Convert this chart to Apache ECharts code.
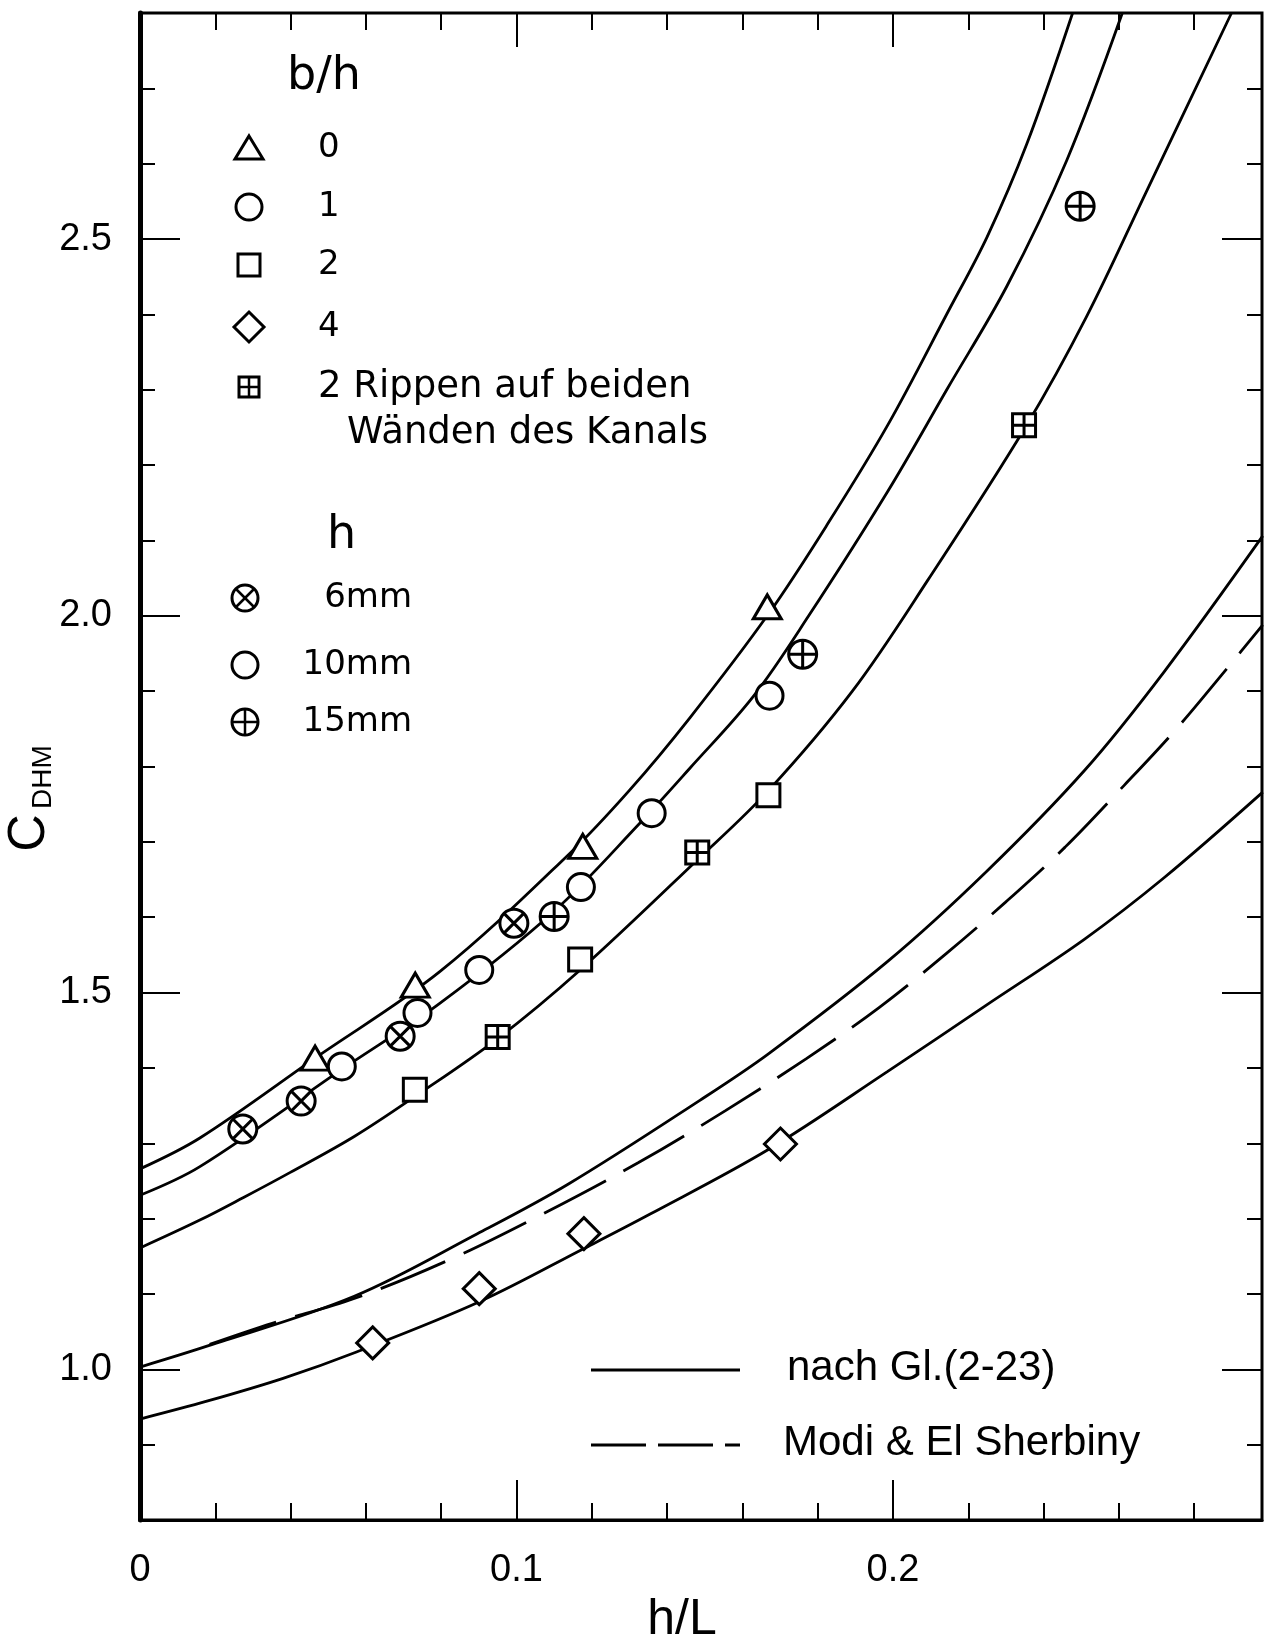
<!DOCTYPE html>
<html>
<head>
<meta charset="utf-8">
<title>C_DHM über h/L</title>
<script src="https://cdn.jsdelivr.net/npm/echarts@6.0.0/dist/echarts.min.js"></script>
<style>
  html, body { margin: 0; padding: 0; background: #fff; }
  #chart { width: 1271px; height: 1634px; }
</style>
</head>
<body>
<div id="chart"></div>
<script>
// curves nach Gl.(2-23)
var curve0X = [0, 0.0159, 0.0465, 0.0797, 0.1138, 0.1301, 0.1461, 0.167, 0.1829, 0.1987, 0.2145, 0.225, 0.2356, 0.2477];
var curve0Y = [1.266, 1.307, 1.413, 1.528, 1.683, 1.769, 1.865, 2.003, 2.124, 2.254, 2.4025, 2.503, 2.627, 2.80];

var curve1X = [0, 0.0159, 0.0536, 0.0797, 0.11, 0.1328, 0.1461, 0.1629, 0.1776, 0.1987, 0.2145, 0.2303, 0.2461, 0.2609];
var curve1Y = [1.231, 1.269, 1.398, 1.486, 1.608, 1.725, 1.798, 1.893, 2.0, 2.166, 2.302, 2.438, 2.604, 2.80];

var curve2X = [0, 0.0159, 0.0275, 0.0398, 0.0569, 0.073, 0.095, 0.1169, 0.148, 0.1669, 0.1892, 0.2092, 0.2356, 0.2514, 0.2672, 0.2899];
var curve2Y = [1.161, 1.198, 1.228, 1.261, 1.309, 1.362, 1.439, 1.530, 1.676, 1.768, 1.900, 2.047, 2.254, 2.397, 2.562, 2.80];

var curveAX = [0, 0.018, 0.0569, 0.0896, 0.1138, 0.1487, 0.167, 0.1985, 0.2247, 0.2509, 0.2719, 0.2982];
var curveAY = [1.003, 1.031, 1.097, 1.180, 1.246, 1.357, 1.419, 1.541, 1.66, 1.795, 1.925, 2.106];

var curve4X = [0, 0.018, 0.038, 0.0575, 0.0903, 0.1178, 0.1355, 0.167, 0.1985, 0.2247, 0.2509, 0.2719, 0.2982];
var curve4Y = [0.934, 0.958, 0.988, 1.023, 1.090, 1.160, 1.206, 1.292, 1.395, 1.483, 1.571, 1.652, 1.766];

// Modi & El Sherbiny (dashed)
var modiX = [0.0185, 0.0351, 0.0569, 0.082, 0.1067, 0.1323, 0.1554, 0.1769, 0.1963, 0.2142, 0.2299, 0.2457, 0.2614, 0.2751, 0.2887, 0.2982];
var modiY = [1.033, 1.061, 1.094, 1.145, 1.2055, 1.274, 1.343, 1.412, 1.48, 1.552, 1.620, 1.693, 1.775, 1.849, 1.930, 1.988];

// measured points
var triX = [0.0465, 0.0731, 0.1176, 0.1666];
var triY = [1.413, 1.510, 1.694, 2.012];
var circX = [0.0536, 0.0737, 0.0901, 0.1171, 0.1359, 0.1672];
var circY = [1.402, 1.473, 1.530, 1.640, 1.738, 1.894];
var sqX = [0.0730, 0.1169, 0.1669];
var sqY = [1.371, 1.544, 1.762];
var diaX = [0.0618, 0.0901, 0.1179, 0.1701];
var diaY = [1.035, 1.107, 1.180, 1.299];
var ribX = [0.0950, 0.148, 0.2348];
var ribY = [1.441, 1.686, 2.253];
var h6X = [0.0273, 0.0428, 0.0691, 0.0993];
var h6Y = [1.319, 1.356, 1.442, 1.592];
var h15X = [0.1100, 0.176, 0.2497];
var h15Y = [1.601, 1.949, 2.5435];

var xMajor = [0, 0.1, 0.2];
var yMajor = [1.0, 1.5, 2.0, 2.5];

var CROSS_CIRCLE = 'path://M0,10A10,10,0,1,1,20,10A10,10,0,1,1,0,10ZM2.93,2.93L17.07,17.07M17.07,2.93L2.93,17.07';
var PLUS_CIRCLE = 'path://M0,10A10,10,0,1,1,20,10A10,10,0,1,1,0,10ZM10,0L10,20M0,10L20,10';
var GRID_SQUARE = 'path://M0,0L20,0L20,20L0,20ZM10,0L10,20M0,10L20,10';

var LABEL_FONT = 'Liberation Sans';
var LEGEND_FONT = 'DejaVu Sans';

function pairs(xs, ys) {
  return xs.map(function (x, i) { return [x, ys[i]]; });
}

function curve(name, xs, ys, dashed) {
  return {
    name: name,
    type: 'line',
    data: pairs(xs, ys),
    showSymbol: false,
    smooth: 0.35,
    lineStyle: { color: '#000', width: 2.8, type: dashed ? [70, 20] : 'solid' },
    z: 2
  };
}

function points(name, xs, ys, symbol, size) {
  return {
    name: name,
    type: 'scatter',
    data: pairs(xs, ys),
    symbol: symbol,
    symbolSize: size,
    itemStyle: { color: '#fff', borderColor: '#000', borderWidth: 3, opacity: 1 },
    z: 5
  };
}

// legend drawing helpers
var ink = { stroke: '#000', lineWidth: 3, fill: '#fff' };
function gCircle(cx, cy, r) { return { type: 'circle', shape: { cx: cx, cy: cy, r: r }, style: ink }; }
function gLine(x1, y1, x2, y2, w, dash) {
  return { type: 'line', shape: { x1: x1, y1: y1, x2: x2, y2: y2 }, style: { stroke: '#000', lineWidth: w || 2.5, lineDash: dash || null } };
}
function gText(text, x, y, size, font, align) {
  return {
    type: 'text', x: x, y: y,
    style: { text: text, fontSize: size, fontFamily: font, fill: '#000', align: align || 'left', verticalAlign: 'middle' }
  };
}
function gTri(cx, cy) {
  return { type: 'polygon', shape: { points: [[cx, cy - 12], [cx + 14, cy + 11], [cx - 14, cy + 11]] }, style: ink };
}
function gSq(cx, cy, s) { return { type: 'rect', shape: { x: cx - s / 2, y: cy - s / 2, width: s, height: s }, style: ink }; }
function gDia(cx, cy) {
  return { type: 'polygon', shape: { points: [[cx, cy - 15], [cx + 15, cy], [cx, cy + 15], [cx - 15, cy]] }, style: ink };
}
function gGridSq(cx, cy) {
  return { type: 'group', children: [gSq(cx, cy, 20), gLine(cx, cy - 10, cx, cy + 10), gLine(cx - 10, cy, cx + 10, cy)] };
}
function gCross(cx, cy) {
  var d = 9.5;
  return { type: 'group', children: [gCircle(cx, cy, 13), gLine(cx - d, cy - d, cx + d, cy + d), gLine(cx + d, cy - d, cx - d, cy + d)] };
}
function gPlus(cx, cy) {
  return { type: 'group', children: [gCircle(cx, cy, 13), gLine(cx, cy - 13, cx, cy + 13), gLine(cx - 13, cy, cx + 13, cy)] };
}

var symX = 249, hSymX = 245, labX = 318;

var chart = echarts.init(document.getElementById('chart'));
var tickLine = { color: '#000', width: 2 };

function frameAxis(pos, extra) {
  var isX = pos === 'top' || pos === 'bottom';
  var base = {
    type: 'value',
    min: isX ? 0 : 0.8,
    max: isX ? 0.298 : 2.8,
    position: pos,
    axisLine: { show: false, onZero: false },
    axisLabel: { show: false },
    splitLine: { show: false }
  };
  return Object.assign(base, extra);
}

chart.setOption({
  animation: false,
  backgroundColor: '#fff',
  grid: {
    left: 140, right: 9, top: 13, bottom: 114,
    show: true, borderColor: '#000', borderWidth: 3,
    containLabel: false, outerBoundsMode: 'none'
  },
  xAxis: [
    frameAxis('bottom', {
      interval: 0.02,
      axisTick: { inside: true, length: 17, lineStyle: tickLine }
    }),
    frameAxis('bottom', {
      axisLine: { show: true, onZero: false, lineStyle: { color: '#000', width: 3 } },
      axisTick: { inside: true, length: 40, customValues: xMajor, lineStyle: tickLine },
      axisLabel: {
        customValues: xMajor, margin: 32, fontSize: 38, fontFamily: LABEL_FONT, color: '#000',
        formatter: function (v) { return v === 0 ? '0' : v.toFixed(1); }
      },
      name: 'h/L', nameLocation: 'middle', nameGap: 64,
      nameTextStyle: { fontSize: 50, fontFamily: LABEL_FONT, color: '#000', padding: [0, 38, 0, 0] }
    }),
    frameAxis('top', {
      interval: 0.02,
      axisTick: { inside: true, length: 17, lineStyle: tickLine }
    }),
    frameAxis('top', {
      axisTick: { inside: true, length: 34, customValues: [0.1, 0.2], lineStyle: tickLine }
    })
  ],
  yAxis: [
    frameAxis('left', {
      interval: 0.1,
      axisTick: { inside: true, length: 15, lineStyle: tickLine }
    }),
    frameAxis('left', {
      axisLine: { show: true, onZero: false, lineStyle: { color: '#000', width: 5 } },
      axisTick: { inside: true, length: 40, customValues: yMajor, lineStyle: tickLine },
      axisLabel: {
        customValues: yMajor, margin: 28, fontSize: 38, fontFamily: LABEL_FONT, color: '#000',
        formatter: function (v) { return v.toFixed(1); }
      }
    }),
    frameAxis('right', {
      interval: 0.1,
      axisTick: { inside: true, length: 15, lineStyle: tickLine }
    }),
    frameAxis('right', {
      axisTick: { inside: true, length: 40, customValues: yMajor, lineStyle: tickLine }
    })
  ],
  series: [
    curve('b/h = 0', curve0X, curve0Y),
    curve('b/h = 1', curve1X, curve1Y),
    curve('b/h = 2', curve2X, curve2Y),
    curve('b/h = 2, Rippen auf beiden Wänden', curveAX, curveAY),
    curve('b/h = 4', curve4X, curve4Y),
    curve('Modi & El Sherbiny', modiX, modiY, true),
    points('0', triX, triY, 'triangle', [28, 24]),
    points('1', circX, circY, 'circle', 27),
    points('2', sqX, sqY, 'rect', 23),
    points('4', diaX, diaY, 'diamond', 32),
    points('2 Rippen auf beiden Wänden des Kanals', ribX, ribY, GRID_SQUARE, 23),
    points('6mm', h6X, h6Y, CROSS_CIRCLE, 28),
    points('15mm', h15X, h15Y, PLUS_CIRCLE, 28)
  ],
  graphic: [
    // y axis name, rotated
    { type: 'text', x: 30, y: 833, rotation: Math.PI / 2,
      style: { text: 'C', fontSize: 52, fontFamily: LABEL_FONT, fill: '#000', align: 'center', verticalAlign: 'middle' } },
    { type: 'text', x: 43, y: 777, rotation: Math.PI / 2,
      style: { text: 'DHM', fontSize: 28, fontFamily: LABEL_FONT, fill: '#000', align: 'center', verticalAlign: 'middle' } },

    // b/h legend
    gText('b/h', 287, 77, 46, LEGEND_FONT),
    gTri(symX, 148), gText('0', labX, 148, 34, LEGEND_FONT),
    gCircle(symX, 207, 13), gText('1', labX, 207, 34, LEGEND_FONT),
    gSq(symX, 265, 22), gText('2', labX, 265, 34, LEGEND_FONT),
    gDia(symX, 327), gText('4', labX, 327, 34, LEGEND_FONT),
    gGridSq(symX, 387), gText('2 Rippen auf beiden', labX, 387, 37, LEGEND_FONT),
    gText('Wänden des Kanals', 347, 433, 37, LEGEND_FONT),

    // h legend
    gText('h', 327, 536, 46, LEGEND_FONT),
    gCross(hSymX, 598), gText('6mm', 412, 598, 34, LEGEND_FONT, 'right'),
    gCircle(hSymX, 665, 13), gText('10mm', 412, 665, 34, LEGEND_FONT, 'right'),
    gPlus(hSymX, 722), gText('15mm', 412, 722, 34, LEGEND_FONT, 'right'),

    // line legend
    gLine(591, 1370, 740, 1370, 2.8), gText('nach Gl.(2-23)', 787, 1368, 42, LABEL_FONT),
    gLine(591, 1445, 740, 1445, 2.8, [55, 12]), gText('Modi & El Sherbiny', 783, 1443, 42, LABEL_FONT)
  ]
});
</script>
</body>
</html>
